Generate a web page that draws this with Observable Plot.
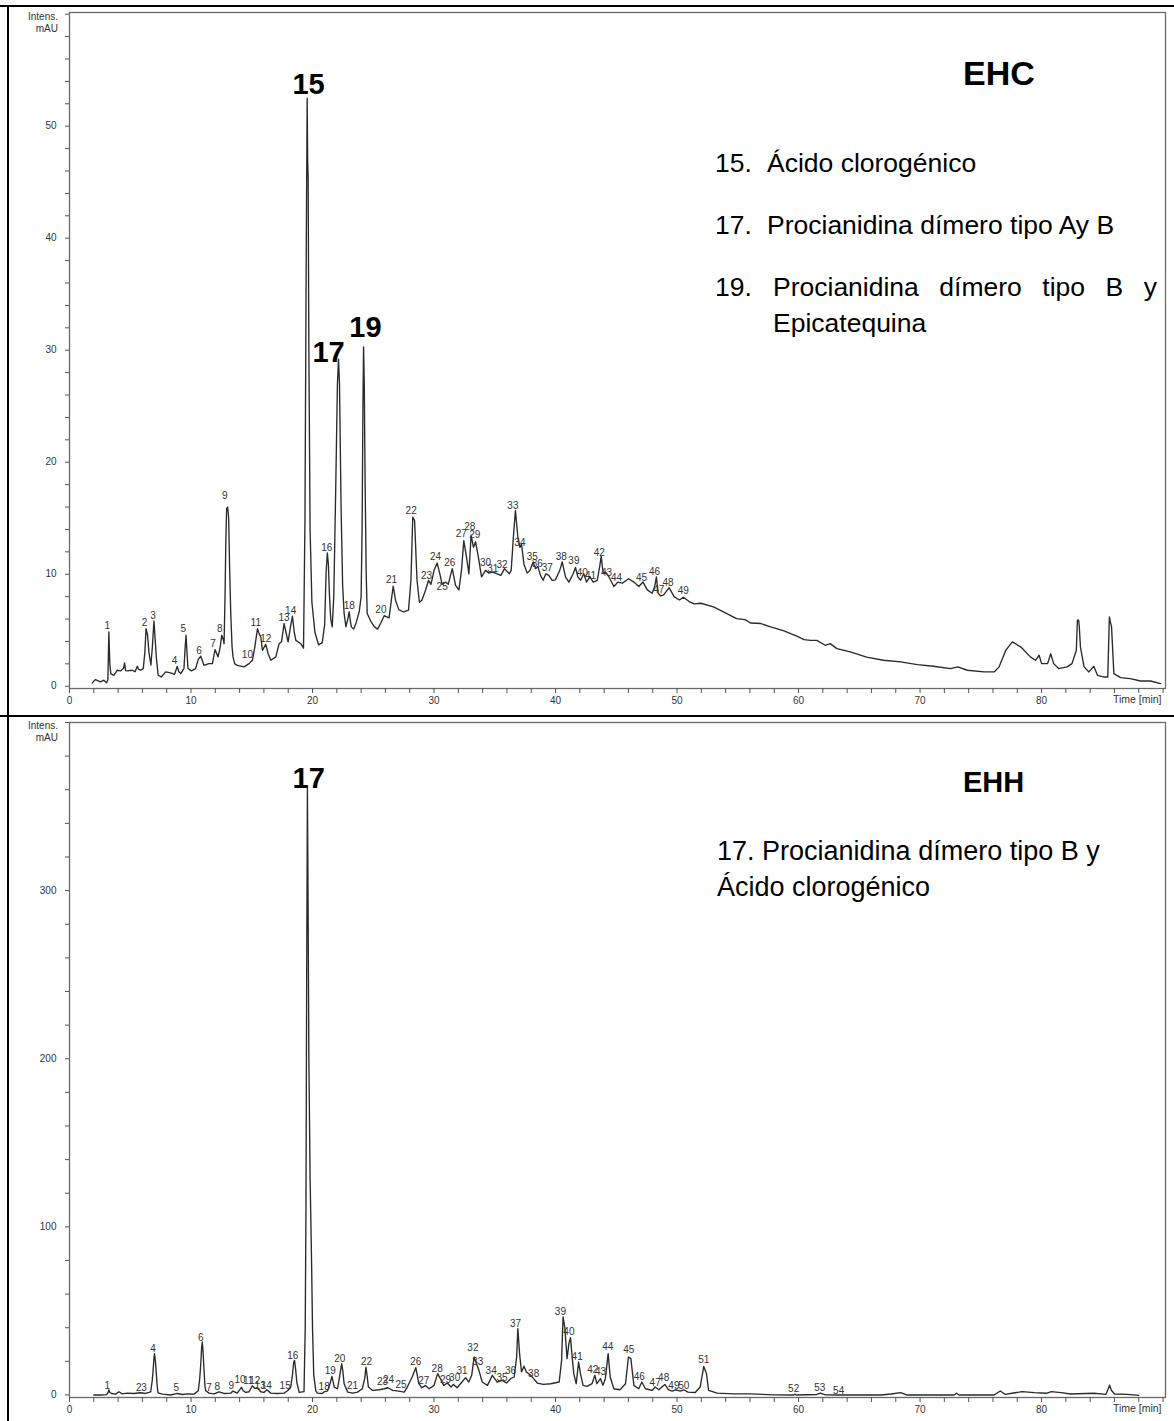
<!DOCTYPE html>
<html>
<head>
<meta charset="utf-8">
<script src="https://cdn.jsdelivr.net/npm/d3@7"></script>
<script src="https://cdn.jsdelivr.net/npm/@observablehq/plot@0.6"></script>
<style>
  html, body { margin: 0; padding: 0; background: #fff; }
  #page { position: relative; width: 1174px; height: 1421px; background: #fff; overflow: hidden;
          font-family: "Liberation Sans", Arial, sans-serif; color: #000; }
  #page .chart { position: absolute; left: 0; }
  .rule { position: absolute; background: #000; z-index: 5; }
  .t { position: absolute; white-space: pre; z-index: 6; }
  .leg { font-size: 26.5px; line-height: 26px; }
  .leg2 { font-size: 27px; line-height: 27px; }
  .ax { font-size: 10px; line-height: 12px; color: #333; text-align: right; width: 50px; }
</style>
</head>
<body>
<div id="page">
  <div id="chartEHC" class="chart" style="top:0"></div>
  <div id="chartEHH" class="chart" style="top:716px"></div>

  <div class="rule" style="left:0;top:5px;width:1174px;height:2px"></div>
  <div class="rule" style="left:7px;top:5px;width:2px;height:1416px"></div>
  <div class="rule" style="left:0;top:715px;width:1174px;height:2px"></div>

  <div class="t ax" style="left:8px;top:11px">Intens.<br>mAU</div>
  <div class="t ax" style="left:8px;top:720px">Intens.<br>mAU</div>

  <div class="t" style="left:963px;top:56px;font-size:34px;line-height:34px;font-weight:bold">EHC</div>
  <div class="t leg" style="left:715px;top:150px">15.</div>
  <div class="t leg" style="left:767px;top:150px">Ácido clorogénico</div>
  <div class="t leg" style="left:715px;top:212px">17.</div>
  <div class="t leg" style="left:767px;top:212px">Procianidina dímero tipo Ay B</div>
  <div class="t leg" style="left:715px;top:274px">19.</div>
  <div class="t leg" style="left:773px;top:274px;width:384px;white-space:normal;text-align:justify;text-align-last:justify">Procianidina dímero tipo B y</div>
  <div class="t leg" style="left:773px;top:310px">Epicatequina</div>

  <div class="t" style="left:963px;top:768px;font-size:29px;line-height:29px;font-weight:bold">EHH</div>
  <div class="t leg2" style="left:717px;top:838px">17. Procianidina dímero tipo B y</div>
  <div class="t leg2" style="left:717px;top:874px">Ácido clorogénico</div>
</div>
<script>
// ---------- EHC chromatogram (time in min, intensity in mAU) ----------
const ehcTime = [1.87,2.14,2.55,2.83,3.05,3.16,3.24,3.32,3.4,3.65,3.93,4.2,4.45,4.53,4.62,4.75,5.16,5.4,5.58,5.7,5.85,6.07,6.2,6.3,6.42,6.54,6.7,6.82,6.95,7.05,7.15,7.3,7.55,7.91,8.32,8.65,8.87,9.0,9.15,9.42,9.52,9.59,9.66,9.75,10.03,10.38,10.6,10.8,11.07,11.48,11.76,11.98,12.23,12.4,12.53,12.65,12.72,12.8,12.86,12.93,13.02,13.1,13.18,13.27,13.38,13.46,13.6,13.82,14.37,14.78,15.05,15.25,15.47,15.6,15.74,15.88,16.15,16.35,16.57,16.98,17.25,17.45,17.66,17.82,17.99,18.2,18.35,18.5,18.63,19.04,19.26,19.38,19.48,19.56,19.6,19.64,19.7,19.8,19.95,20.2,20.5,20.8,21.0,21.12,21.22,21.3,21.4,21.5,21.62,21.75,21.9,22.05,22.14,22.22,22.35,22.48,22.6,22.75,22.9,23.02,23.12,23.2,23.38,23.6,23.85,24.0,24.08,24.15,24.2,24.26,24.33,24.42,24.5,24.8,25.1,25.36,25.6,25.9,26.1,26.3,26.5,26.64,26.83,27.1,27.5,27.9,28.1,28.25,28.4,28.6,28.8,29.0,29.3,29.55,29.75,30.0,30.26,30.48,30.67,30.95,31.17,31.5,31.77,32.05,32.26,32.45,32.67,32.87,33.05,33.25,33.42,33.64,33.91,34.24,34.5,34.8,35.2,35.5,35.8,36.2,36.35,36.53,36.7,36.9,37.07,37.2,37.4,37.67,37.9,38.16,38.35,38.55,38.76,38.98,39.2,39.45,39.72,39.99,40.35,40.55,40.82,41.1,41.45,41.64,41.84,42.06,42.33,42.55,42.83,43.1,43.43,43.62,43.76,43.92,44.1,44.4,44.8,45.13,45.5,46.0,46.45,46.85,47.2,47.55,47.95,48.16,48.3,48.45,48.65,48.9,49.35,49.75,50.2,50.52,51.0,51.4,51.95,53.0,54.1,54.9,55.6,56.05,56.9,57.7,58.8,59.9,60.45,60.99,61.5,62.2,62.6,63.16,64.26,65.6,66.99,68.4,69.77,71.1,72.5,73.1,73.9,75.25,76.1,76.5,77.05,77.6,78.3,79.1,79.5,79.8,80.0,80.5,80.75,81.0,81.4,82.1,82.5,82.86,82.95,83.05,83.1,83.2,83.5,83.9,84.3,84.6,85.1,85.45,85.58,85.65,85.76,85.95,86.5,87.3,88.15,88.97,89.8];
const ehcIntensity = [0.3,0.6,0.39,0.54,0.3,0.6,4.85,2.0,1.1,0.98,1.43,1.37,1.6,2.08,1.4,1.37,1.43,1.3,1.78,1.5,1.43,1.58,3.0,5.15,4.6,3.0,1.9,3.5,5.83,4.2,2.5,0.98,0.83,1.28,1.19,1.07,1.78,1.3,1.13,1.58,3.5,4.55,3.2,1.58,1.37,1.58,2.4,2.68,1.87,2.02,2.02,3.27,2.62,3.5,4.55,4.2,3.8,8.0,12.5,15.86,16.0,15.0,10.5,6.5,3.5,2.62,2.0,1.87,1.73,2.02,2.32,3.5,5.15,4.7,4.4,3.2,3.75,2.9,2.32,2.62,3.8,3.97,5.6,4.8,3.97,5.4,6.25,4.8,4.1,3.8,3.4,15,38,52.5,47,45.5,30,14,7.5,4.8,3.7,3.9,5.5,10.2,11.9,11.0,8.0,6.0,5.3,8,17,27,29.2,27,16,9,6.5,5.3,6.0,6.65,5.8,5.3,5.1,5.7,6.7,8.0,14,25,30.3,27,18,10,6.5,5.8,5.3,5.1,5.6,6.3,6.2,6.1,7.8,8.93,7.68,6.84,6.63,6.8,9.46,15.1,14.8,9.46,7.5,7.68,8.57,9.46,9.1,10.35,11.0,10.04,9.1,9.3,9.1,10.5,9.0,8.6,10.35,13.0,11.55,10.04,13.48,12.4,12.9,11.6,9.76,10.35,10.1,10.2,10.04,9.9,10.5,10.04,10.35,13.3,15.7,13.3,12.4,12.7,10.9,10.1,10.35,11.1,10.5,10.7,9.9,9.46,10.04,9.9,9.46,9.5,10.35,11.1,9.76,9.3,10.04,10.6,9.76,9.46,10.04,9.3,9.76,9.3,9.46,10.6,11.6,10.04,10.2,9.76,8.9,9.3,9.2,9.6,9.3,8.9,9.3,8.6,8.3,8.9,9.76,8.3,8.06,8.15,8.8,8.0,7.7,7.95,7.56,7.35,7.41,7.08,6.49,6.04,5.95,5.65,5.6,5.3,4.94,4.46,4.17,4.1,4.1,3.66,3.81,3.36,3.07,2.6,2.32,2.17,1.93,1.79,1.58,1.73,1.43,1.28,1.28,1.73,3.2,3.96,3.5,2.6,2.32,2.77,2.02,2.02,2.9,2.02,1.58,1.73,2.02,3.2,5.9,5.9,5.4,3.5,1.73,1.28,1.79,0.98,0.83,0.83,6.2,5.8,5.3,1.13,0.77,0.68,0.47,0.47,0.24];

// EHC peak numbers (label anchor: time, intensity)
const ehcPeakIds = ["1","2","3","4","5","6","7","8","9","10","11","12","13","14","16","18","20","21","22","23","24","25","26","27","28","29","30","31","32","33","34","35","36","37","38","39","40","41","42","43","44","45","46","47","48","49"];
const ehcPeakTime = [3.1,6.18,6.87,8.65,9.37,10.66,11.81,12.36,12.77,14.64,15.33,16.15,17.66,18.2,21.18,23.02,25.63,26.5,28.12,29.38,30.12,30.67,31.3,32.24,32.95,33.36,34.24,34.84,35.6,36.49,37.07,38.09,38.5,39.32,40.47,41.51,42.2,42.88,43.6,44.2,45.02,47.08,48.15,48.5,49.26,50.52];
const ehcPeakLabelY = [5.36,5.65,6.3,2.26,5.15,3.21,3.75,5.15,17.0,2.77,5.65,4.2,6.13,6.73,12.4,7.14,6.8,9.5,15.7,9.9,11.6,8.9,11.0,13.6,14.2,13.5,11.0,10.5,10.8,16.1,12.8,11.6,10.9,10.56,11.6,11.16,10.1,9.9,11.9,10.1,9.7,9.7,10.2,8.57,9.25,8.5];
const ehcMainIds = ["15","17","19"];
const ehcMainTime = [19.67,21.32,24.36];
const ehcMainY = [53.66,29.8,32.0];

// ---------- EHH chromatogram ----------
const ehhTime = [2.0,2.55,3.05,3.18,3.24,3.32,3.46,3.8,4.07,4.34,4.75,5.3,5.85,6.26,6.68,6.8,6.87,6.95,7.0,7.07,7.14,7.22,7.28,7.64,8.32,8.87,9.29,9.7,10.25,10.6,10.72,10.8,10.88,10.93,10.98,11.07,11.15,11.22,11.48,11.9,12.3,12.72,13.27,13.46,13.8,14.0,14.15,14.3,14.5,14.78,15.05,15.25,15.47,15.74,16.0,16.24,16.57,17.1,17.66,17.94,18.2,18.35,18.45,18.52,18.6,18.71,18.9,19.3,19.4,19.46,19.52,19.58,19.63,19.7,19.8,19.92,20.0,20.1,20.27,20.4,20.8,20.96,21.24,21.45,21.6,21.79,22.06,22.25,22.4,22.5,22.6,22.9,23.3,23.7,24.1,24.3,24.4,24.5,24.6,24.95,25.5,25.9,26.2,26.6,27.1,27.55,27.8,28.2,28.5,28.75,29.0,29.3,29.6,30.0,30.3,30.6,30.8,31.1,31.4,31.6,31.9,32.3,32.6,32.86,33.1,33.3,33.5,33.7,33.96,34.4,34.8,35.2,35.6,35.97,36.3,36.6,36.8,36.9,37.04,37.2,37.4,37.6,37.95,38.2,38.5,39.0,39.6,40.3,40.5,40.62,40.76,40.95,41.1,41.23,41.37,41.5,41.7,41.9,42.05,42.27,42.6,43.0,43.24,43.4,43.7,43.9,44.1,44.33,44.5,44.8,45.3,45.76,46.0,46.2,46.45,46.85,47.1,47.4,47.95,48.2,48.5,49.0,49.3,49.6,49.87,50.28,50.55,50.9,51.5,51.9,52.2,52.42,52.6,53.3,54.67,56.0,58.0,59.6,59.7,59.8,61.5,61.8,62.2,63.3,66.8,67.6,68.4,68.9,72.8,73.0,73.2,76.1,76.6,77.0,77.7,78.4,79.4,80.4,80.8,81.6,82.4,84.3,85.3,85.5,85.6,85.75,86.0,87.05,88.0];
const ehhIntensity = [0,0,0.2,1.5,3,1.5,0.9,0.5,1.9,0.7,1.1,0.9,1.3,0.9,1.9,8,13.4,22,24.5,20,13.4,5,1.3,0.5,0,0.9,0.3,0.7,0.5,2.5,10,18,29,31.5,27,15,5,2.5,1.1,0.7,1.9,0.9,1.1,2.3,1.1,3,4.5,2.5,1.5,1.9,5.5,3.9,4.3,1.9,1.5,3.1,1.1,0.9,1.1,2.5,4.5,12,19.5,20.6,16,7.5,1.5,2,40,110,250,361,300,200,130,80,40,12,2.5,1.1,0.9,1.9,2.5,7,11.1,4.7,3.7,12,18.6,14,6.7,1.7,1.1,1.7,3.7,10,16.6,11,4.7,2.7,3.1,3.7,4.3,2.7,2.3,1.7,4.7,10.7,16.2,6.7,4.3,5.7,3.7,5.7,12.7,8.7,5.7,7.1,4.7,6.3,4.3,7.7,10.3,7.7,11.7,22.6,18.6,14.6,7.7,5.7,11.7,7.7,8.7,7.1,9.7,10.7,22.6,39.5,24.6,13.7,17.1,13.7,11.7,9.7,7.1,6.3,6.7,7.7,20.6,46.4,40.4,21.6,30.5,34.1,22.6,12.7,6.7,19.6,12.7,5.7,5.1,6.7,11.7,6.7,9.7,5.7,9.7,24.6,10.7,3.7,3.1,6.7,22.6,21.6,5.7,3.7,7.7,3.7,2.7,4.7,3.1,6.3,3.1,2.3,3.1,2.3,3.1,1.7,1.5,4.7,17,12.7,2.7,1.1,0.7,0.7,0.1,0,0.5,0,0.3,1.1,0.1,0,0,0.6,1.4,0,0,1,0,0,2.4,0.4,1.2,2,1.4,1,2,1.4,0.6,1,0.4,3.8,5.8,2.8,0.6,0.4,-0.2];

const ehhPeakIds = ["1","2","3","4","5","6","7","8","9","10","11","12","13","14","15","16","18","19","20","21","22","23","24","25","26","27","28","29","30","31","32","33","34","35","36","37","38","39","40","41","42","43","44","45","46","47","48","49","50","51","52","53","54"];
const ehhPeakTime = [3.1,5.71,6.13,6.87,8.79,10.8,11.48,12.17,13.32,14.04,14.7,15.25,15.69,16.2,17.75,18.38,20.96,21.46,22.25,23.3,24.45,25.77,26.26,27.28,28.5,29.15,30.26,30.95,31.7,32.3,33.2,33.6,34.7,35.6,36.3,36.71,38.2,40.4,41.1,41.78,43.07,43.7,44.3,46.03,46.9,48.2,48.9,49.74,50.55,52.2,59.6,61.75,63.3];
const ehhPeakLabelY = [5.3,4.1,4.1,27.5,4.1,34,4.1,4.7,5.3,9.3,8.7,8.3,5.3,5.3,5.3,23.4,5.1,14.6,21.5,5.7,19.6,7.7,9.3,6.3,19.6,8.3,15.6,8.9,10.5,14.2,28.1,19.6,14.6,10.5,14.2,42.3,12.6,49.3,37.4,22.6,15.0,13.6,28.5,26.9,11,7.1,10.3,5.7,5.7,20.9,3.4,4.1,2.7];
const ehhMainIds = ["17"];
const ehhMainTime = [19.69];
const ehhMainY = [366.7];

// axis ticks
const timeTicks = d3.range(0, 91, 2);
const ehcTicks = d3.range(0, 61, 2);
const ehhTicks = d3.range(0, 401, 20);

// ---------- build ----------
const toRows = (xs, ys) => xs.map((x, i) => ({x, y: ys[i]}));
const toLabels = (ids, xs, ys) => ids.map((id, i) => ({id, x: xs[i], y: ys[i]}));

const chartFont = '"Liberation Sans", Arial, sans-serif';

function chromatogram(opts) {
  return Plot.plot({
    width: 1174,
    height: opts.height,
    marginLeft: 69,
    marginRight: 9,
    marginTop: opts.marginTop,
    marginBottom: opts.marginBottom,
    style: {fontFamily: chartFont, fontSize: "10px", color: "#333", background: "transparent"},
    x: {domain: [0, 90.2]},
    y: {domain: opts.yDomain},
    marks: [
      Plot.frame({stroke: "#6a6a6a", strokeWidth: 1.3}),
      Plot.axisX({ticks: timeTicks, tickSize: 5, tickPadding: 3, label: null,
                  tickFormat: d => (d % 10 === 0 && d < 90) ? String(d) : "", stroke: "#555"}),
      Plot.axisY({ticks: opts.yTicks, tickSize: 4, tickPadding: 9, label: null,
                  tickFormat: d => (d % opts.yLabelEvery === 0 && d < opts.yLabelMax) ? String(d) : "", stroke: "#555"}),
      Plot.text(["Time [min]"], {frameAnchor: "bottom-right", dx: -4, dy: 11, lineAnchor: "middle",
                  textAnchor: "end", fontSize: 10.5, fill: "#333"}),
      Plot.line(opts.series, {x: "x", y: "y", stroke: "#2a2a2a", strokeWidth: 1.35, curve: "linear"}),
      Plot.text(opts.peaks, {x: "x", y: "y", text: "id", fontSize: 10, fill: "#333", lineAnchor: "middle", textAnchor: "middle"}),
      Plot.text(opts.mains, {x: "x", y: "y", text: "id", fontSize: opts.mainSize, fontWeight: "bold", fill: "#000", lineAnchor: "middle", textAnchor: "middle"})
    ]
  });
}

const ehcChart = chromatogram({
  height: 716, marginTop: 12, marginBottom: 28,
  yDomain: [-0.2, 60.15], yTicks: ehcTicks, yLabelEvery: 10, yLabelMax: 60,
  series: toRows(ehcTime, ehcIntensity),
  peaks: toLabels(ehcPeakIds, ehcPeakTime, ehcPeakLabelY),
  mains: toLabels(ehcMainIds, ehcMainTime, ehcMainY),
  mainSize: 29
});
document.getElementById("chartEHC").appendChild(ehcChart);

const ehhChart = chromatogram({
  height: 705, marginTop: 6, marginBottom: 24,
  yDomain: [-1.5, 400], yTicks: ehhTicks, yLabelEvery: 100, yLabelMax: 400,
  series: toRows(ehhTime, ehhIntensity),
  peaks: toLabels(ehhPeakIds, ehhPeakTime, ehhPeakLabelY),
  mains: toLabels(ehhMainIds, ehhMainTime, ehhMainY),
  mainSize: 29
});
document.getElementById("chartEHH").appendChild(ehhChart);
</script>
</body>
</html>
